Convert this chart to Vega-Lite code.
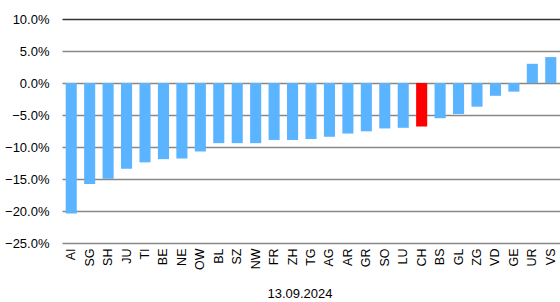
{
  "$schema": "https://vega.github.io/schema/vega-lite/v6.json",
  "width": 498,
  "height": 224,
  "autosize": {"type": "none"},
  "padding": {"left": 62, "top": 19, "right": 0, "bottom": 59},
  "background": "white",
  "title": {"text": "13.09.2024", "orient": "bottom", "anchor": "middle", "dx": -11, "offset": 18, "fontSize": 13, "fontWeight": "normal", "font": "Liberation Sans", "color": "#000"},
  "data": {"values": [
    {"k": "AI", "v": -0.204, "c": "o"},
    {"k": "SG", "v": -0.158, "c": "o"},
    {"k": "SH", "v": -0.1495, "c": "o"},
    {"k": "JU", "v": -0.134, "c": "o"},
    {"k": "TI", "v": -0.124, "c": "o"},
    {"k": "BE", "v": -0.119, "c": "o"},
    {"k": "NE", "v": -0.118, "c": "o"},
    {"k": "OW", "v": -0.107, "c": "o"},
    {"k": "BL", "v": -0.094, "c": "o"},
    {"k": "SZ", "v": -0.094, "c": "o"},
    {"k": "NW", "v": -0.094, "c": "o"},
    {"k": "FR", "v": -0.089, "c": "o"},
    {"k": "ZH", "v": -0.089, "c": "o"},
    {"k": "TG", "v": -0.0875, "c": "o"},
    {"k": "AG", "v": -0.084, "c": "o"},
    {"k": "AR", "v": -0.079, "c": "o"},
    {"k": "GR", "v": -0.0755, "c": "o"},
    {"k": "SO", "v": -0.071, "c": "o"},
    {"k": "LU", "v": -0.07, "c": "o"},
    {"k": "CH", "v": -0.068, "c": "ch"},
    {"k": "BS", "v": -0.055, "c": "o"},
    {"k": "GL", "v": -0.0485, "c": "o"},
    {"k": "ZG", "v": -0.037, "c": "o"},
    {"k": "VD", "v": -0.02, "c": "o"},
    {"k": "GE", "v": -0.0135, "c": "o"},
    {"k": "UR", "v": 0.03, "c": "o"},
    {"k": "VS", "v": 0.0405, "c": "o"}
  ]},
  "mark": {"type": "bar"},
  "encoding": {
    "x": {
      "field": "k", "type": "nominal", "sort": null,
      "scale": {"paddingInner": 0.4, "paddingOuter": 0.2},
      "axis": {"title": null, "labelAngle": -90, "labelAlign": "right", "labelBaseline": "middle", "ticks": false, "domain": false, "labelPadding": 5, "labelFontSize": 12.5, "labelFont": "Liberation Sans", "labelColor": "#000", "grid": false}
    },
    "y": {
      "field": "v", "type": "quantitative",
      "scale": {"domain": [-0.25, 0.1], "nice": false, "zero": false},
      "axis": {"title": null, "values": [-0.25, -0.2, -0.15, -0.1, -0.05, 0, 0.05, 0.1], "format": ".1%", "ticks": false, "domain": false, "labelPadding": 13, "labelFontSize": 13, "labelFont": "Liberation Sans", "labelColor": "#000", "grid": true, "gridWidth": 1.5,
        "gridColor": {"condition": {"test": "datum.value > 0.09", "value": "#333333"}, "value": "#888888"}}
    },
    "color": {"field": "c", "type": "nominal", "scale": {"domain": ["o", "ch"], "range": ["#5AB4FF", "#FF0000"]}, "legend": null}
  },
  "config": {"view": {"stroke": null}}
}
